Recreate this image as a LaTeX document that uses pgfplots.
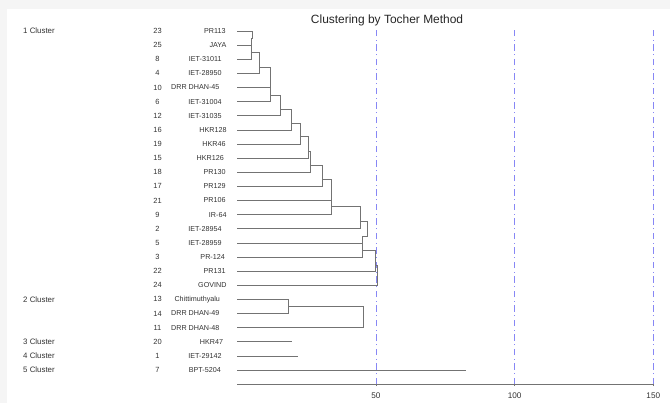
\documentclass[border=0pt]{standalone}
\usepackage{pgfplots}
\pgfplotsset{compat=1.18}
\usepackage{fontspec}
\setmainfont{Liberation Sans}
\definecolor{dend}{RGB}{115,115,115}
\definecolor{cut}{RGB}{135,135,245}
\definecolor{txt}{RGB}{50,50,50}
\tikzset{
  dl/.style={draw=dend, line width=0.75bp, mark=none},
  cl/.style={draw=cut, line width=0.65bp, mark=none, dash pattern=on 6.5bp off 3.5bp on 1bp off 3.5bp},
  lab/.style={font=\fontsize{7.2}{8}\selectfont, text=txt, inner sep=0pt},
  num/.style={font=\fontsize{7.5}{8}\selectfont, text=txt, inner sep=0pt},
  clu/.style={font=\fontsize{7.9}{9}\selectfont, text=txt, inner sep=0pt, anchor=west},
}
\begin{document}
\begin{tikzpicture}
\begin{axis}[
  x=2.7733bp, y=14.125bp,
  xmin=0, xmax=150, ymin=0, ymax=27.195,
  axis x line*=bottom, axis y line=none,
  xtick={50,100,150}, ytick=\empty,
  tick align=center, major tick length=4bp,
  x axis line style={draw=dend, line width=0.75bp},
  tick style={draw=dend, line width=0.6bp},
  xticklabel style={font=\fontsize{8.2}{9}\selectfont, text=txt, yshift=-3.5bp},
  /pgf/number format/assume math mode=true,
  clip=false,
]
% background frame
\fill[gray!8] (axis cs:-85.57,27.195) rectangle (axis cs:156.02,26.557);
\fill[gray!8] (axis cs:-85.57,-1.345) rectangle (axis cs:-82.9,27.195);
\path (axis cs:-85.57,-1.345) rectangle (axis cs:156.02,27.195);

% cut-off lines
\addplot[cl] coordinates {(50,0) (50,25.1)};
\addplot[cl] coordinates {(100,0) (100,25.1)};
\addplot[cl] coordinates {(150,0) (150,25.1)};

% cluster 1
\addplot[dl] coordinates {(0,25) (5.55,25) (5.55,24.45) (4.9,24.45) (4.9,23) (0,23)};
\addplot[dl] coordinates {(0,24) (4.9,24)};
\addplot[dl] coordinates {(4.9,23.51) (7.9,23.51) (7.9,22) (0,22)};
\addplot[dl] coordinates {(7.9,22.45) (12.0,22.45) (12.0,20) (0,20)};
\addplot[dl] coordinates {(0,21) (12.0,21)};
\addplot[dl] coordinates {(12.0,20.47) (15.7,20.47) (15.7,19) (0,19)};
\addplot[dl] coordinates {(15.7,19.48) (19.6,19.48) (19.6,18) (0,18)};
\addplot[dl] coordinates {(19.6,18.46) (22.6,18.46) (22.6,17) (0,17)};
\addplot[dl] coordinates {(22.6,17.52) (25.6,17.52) (25.6,16) (0,16)};
\addplot[dl] coordinates {(25.6,16.46) (26.2,16.46) (26.2,15) (0,15)};
\addplot[dl] coordinates {(26.2,15.51) (30.8,15.51) (30.8,14) (0,14)};
\addplot[dl] coordinates {(30.8,14.52) (34.0,14.52) (34.0,12) (0,12)};
\addplot[dl] coordinates {(0,13) (34.0,13)};
\addplot[dl] coordinates {(34.0,12.56) (44.2,12.56) (44.2,11) (0,11)};
\addplot[dl] coordinates {(44.2,11.5) (46.9,11.5) (46.9,10.45) (45.2,10.45) (45.2,9) (0,9)};
\addplot[dl] coordinates {(0,10) (45.2,10)};
\addplot[dl] coordinates {(45.2,9.5) (49.9,9.5) (49.9,8) (0,8)};
\addplot[dl] coordinates {(49.9,8.43) (50.6,8.43) (50.6,7) (0,7)};
% cluster 2
\addplot[dl] coordinates {(0,6) (18.4,6) (18.4,5) (0,5)};
\addplot[dl] coordinates {(18.4,5.5) (45.4,5.5) (45.4,4) (0,4)};
% clusters 3-5
\addplot[dl] coordinates {(0,3) (19.6,3)};
\addplot[dl] coordinates {(0,2) (21.8,2)};
\addplot[dl] coordinates {(0,1) (82.5,1)};

% title
\node[font=\fontsize{12}{14}\selectfont, text=black!85] at (axis cs:54,25.78) {Clustering by Tocher Method};

% cluster labels
\node[clu] at ([xshift=-214.3bp]axis cs:0,25) {1 Cluster};
\node[clu] at ([xshift=-214.3bp]axis cs:0,6) {2 Cluster};
\node[clu] at ([xshift=-214.3bp]axis cs:0,3) {3 Cluster};
\node[clu] at ([xshift=-214.3bp]axis cs:0,2) {4 Cluster};
\node[clu] at ([xshift=-214.3bp]axis cs:0,1) {5 Cluster};

% numbers
\node[num] at ([xshift=-79.8bp]axis cs:0,25) {23};
\node[num] at ([xshift=-79.8bp]axis cs:0,24) {25};
\node[num] at ([xshift=-79.8bp]axis cs:0,23) {8};
\node[num] at ([xshift=-79.8bp]axis cs:0,22) {4};
\node[num] at ([xshift=-79.8bp]axis cs:0,21) {10};
\node[num] at ([xshift=-79.8bp]axis cs:0,20) {6};
\node[num] at ([xshift=-79.8bp]axis cs:0,19) {12};
\node[num] at ([xshift=-79.8bp]axis cs:0,18) {16};
\node[num] at ([xshift=-79.8bp]axis cs:0,17) {19};
\node[num] at ([xshift=-79.8bp]axis cs:0,16) {15};
\node[num] at ([xshift=-79.8bp]axis cs:0,15) {18};
\node[num] at ([xshift=-79.8bp]axis cs:0,14) {17};
\node[num] at ([xshift=-79.8bp]axis cs:0,13) {21};
\node[num] at ([xshift=-79.8bp]axis cs:0,12) {9};
\node[num] at ([xshift=-79.8bp]axis cs:0,11) {2};
\node[num] at ([xshift=-79.8bp]axis cs:0,10) {5};
\node[num] at ([xshift=-79.8bp]axis cs:0,9) {3};
\node[num] at ([xshift=-79.8bp]axis cs:0,8) {22};
\node[num] at ([xshift=-79.8bp]axis cs:0,7) {24};
\node[num] at ([xshift=-79.8bp]axis cs:0,6) {13};
\node[num] at ([xshift=-79.8bp]axis cs:0,5) {14};
\node[num] at ([xshift=-79.8bp]axis cs:0,4) {11};
\node[num] at ([xshift=-79.8bp]axis cs:0,3) {20};
\node[num] at ([xshift=-79.8bp]axis cs:0,2) {1};
\node[num] at ([xshift=-79.8bp]axis cs:0,1) {7};

% genotype names
\node[lab,anchor=east] at ([xshift=-11.6bp]axis cs:0,25) {PR113};
\node[lab,anchor=east] at ([xshift=-10.6bp]axis cs:0,24) {JAYA};
\node[lab,anchor=east] at ([xshift=-15.6bp]axis cs:0,23) {IET-31011};
\node[lab,anchor=east] at ([xshift=-15.6bp]axis cs:0,22) {IET-28950};
\node[lab,anchor=west] at ([xshift=-66.3bp]axis cs:0,21) {DRR DHAN-45};
\node[lab,anchor=east] at ([xshift=-15.6bp]axis cs:0,20) {IET-31004};
\node[lab,anchor=east] at ([xshift=-15.6bp]axis cs:0,19) {IET-31035};
\node[lab,anchor=east] at ([xshift=-10.6bp]axis cs:0,18) {HKR128};
\node[lab,anchor=east] at ([xshift=-11.6bp]axis cs:0,17) {HKR46};
\node[lab,anchor=east] at ([xshift=-13.3bp]axis cs:0,16) {HKR126};
\node[lab,anchor=east] at ([xshift=-11.6bp]axis cs:0,15) {PR130};
\node[lab,anchor=east] at ([xshift=-11.6bp]axis cs:0,14) {PR129};
\node[lab,anchor=east] at ([xshift=-11.6bp]axis cs:0,13) {PR106};
\node[lab,anchor=east] at ([xshift=-10.6bp]axis cs:0,12) {IR-64};
\node[lab,anchor=east] at ([xshift=-15.6bp]axis cs:0,11) {IET-28954};
\node[lab,anchor=east] at ([xshift=-15.6bp]axis cs:0,10) {IET-28959};
\node[lab,anchor=east] at ([xshift=-12.3bp]axis cs:0,9) {PR-124};
\node[lab,anchor=east] at ([xshift=-11.6bp]axis cs:0,8) {PR131};
\node[lab,anchor=east] at ([xshift=-10.6bp]axis cs:0,7) {GOVIND};
\node[lab,anchor=west] at ([xshift=-63bp]axis cs:0,6) {Chittimuthyalu};
\node[lab,anchor=west] at ([xshift=-66.3bp]axis cs:0,5) {DRR DHAN-49};
\node[lab,anchor=west] at ([xshift=-66.3bp]axis cs:0,4) {DRR DHAN-48};
\node[lab,anchor=east] at ([xshift=-14bp]axis cs:0,3) {HKR47};
\node[lab,anchor=east] at ([xshift=-15.6bp]axis cs:0,2) {IET-29142};
\node[lab,anchor=east] at ([xshift=-16.3bp]axis cs:0,1) {BPT-5204};
\end{axis}
\end{tikzpicture}
\end{document}
